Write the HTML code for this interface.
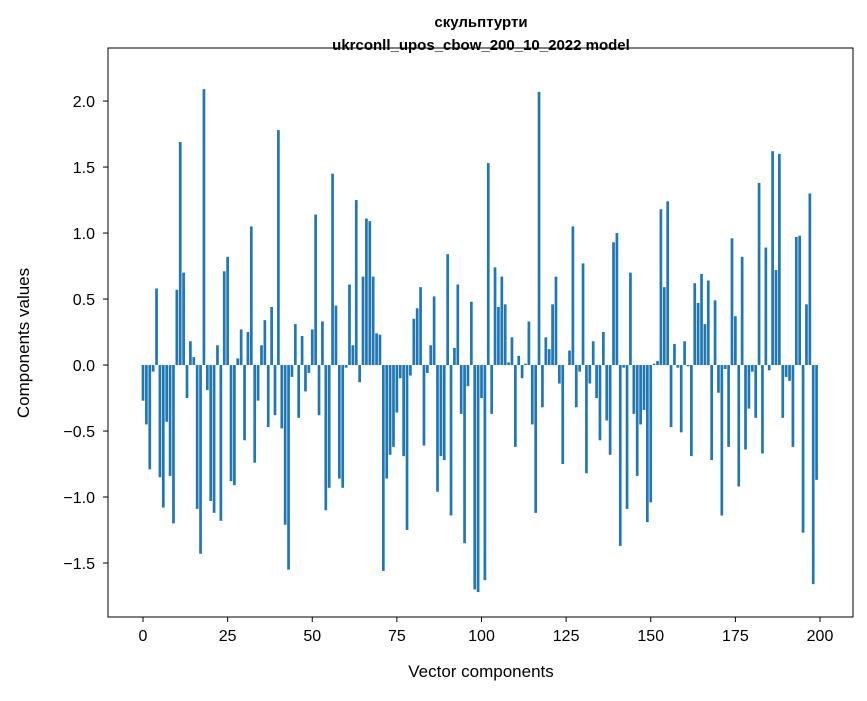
<!DOCTYPE html>
<html><head><meta charset="utf-8"><style>
body{margin:0;background:#fff;}
svg text{font-family:"Liberation Sans","DejaVu Sans",sans-serif;fill:#000;}
</style></head><body>
<svg id="chart" width="867" height="696" xmlns="http://www.w3.org/2000/svg">
<rect width="867" height="696" fill="#fff"/>
<text x="481" y="27" text-anchor="middle" font-size="15" font-weight="bold">скульптурти</text>
<text x="481" y="50" text-anchor="middle" font-size="15" font-weight="bold">ukrconll_upos_cbow_200_10_2022 model</text>
<g id="bars"></g>
<g id="axes"></g>
<text x="481" y="677" text-anchor="middle" font-size="17">Vector components</text>
<text x="0" y="0" transform="translate(29,343) rotate(-90)" text-anchor="middle" font-size="17">Components values</text>
</svg>
<script>
const values = [-0.27,-0.45,-0.79,-0.05,0.58,-0.85,-1.08,-0.43,-0.84,-1.20,
0.57,1.69,0.70,-0.25,0.18,0.06,-1.09,-1.43,2.09,-0.19,
-1.03,-1.12,0.15,-1.18,0.71,0.82,-0.88,-0.91,0.05,0.27,
-0.57,0.25,1.05,-0.74,-0.27,0.15,0.34,-0.47,0.44,-0.38,
1.78,-0.48,-1.21,-1.55,-0.09,0.31,-0.40,0.22,-0.20,-0.06,
0.27,1.14,-0.38,0.33,-1.10,-0.93,1.45,0.45,-0.86,-0.93,
-0.02,0.61,0.15,1.25,-0.13,0.67,1.11,1.09,0.67,0.24,
0.23,-1.56,-0.86,-0.68,-0.62,-0.36,-0.10,-0.69,-1.25,-0.08,
0.35,0.43,0.59,-0.61,-0.06,0.15,0.52,-0.96,-0.69,-0.72,
0.84,-1.14,0.13,0.61,-0.37,-1.35,-0.16,0.48,-1.70,-1.72,
-0.25,-1.63,1.53,-0.37,0.74,0.44,0.67,0.46,0.02,0.21,
-0.62,0.07,-0.10,0.01,0.33,-0.45,-1.12,2.07,-0.32,0.21,
0.12,0.46,0.67,-0.14,-0.75,0.00,0.11,1.05,-0.32,-0.05,
0.77,-0.82,-0.14,0.18,-0.25,-0.57,0.25,-0.42,-0.68,0.93,
1.00,-1.37,-0.02,-1.09,0.70,-0.37,-0.84,-0.45,-0.34,-1.19,
-1.04,0.01,0.03,1.18,0.59,1.24,-0.47,0.16,-0.02,-0.51,
0.18,-0.01,-0.69,0.62,0.47,0.69,0.31,0.64,-0.72,0.49,
-0.21,-1.14,-0.03,-0.62,0.96,0.37,-0.92,0.82,-0.64,-0.33,
-0.05,-0.40,1.38,-0.67,0.89,-0.04,1.62,0.72,1.60,-0.40,
-0.09,-0.12,-0.62,0.97,0.98,-1.27,0.46,1.30,-1.66,-0.87];
const xTicks = [0,25,50,75,100,125,150,175,200];
const yTicks = [-1.5,-1.0,-0.5,0.0,0.5,1.0,1.5,2.0];
const yTickLabels = ["−1.5","−1.0","−0.5","0.0","0.5","1.0","1.5","2.0"];

const L=108,R=853,T=48,B=617;
const xMin=-10.34,xMax=209.75,yMin=-1.909,yMax=2.402;
const sx=v=>L+(v-xMin)/(xMax-xMin)*(R-L);
const sy=v=>T+(yMax-v)/(yMax-yMin)*(B-T);
const NS="http://www.w3.org/2000/svg";
const bars=document.getElementById('bars');
values.forEach((v,i)=>{
  const r=document.createElementNS(NS,'rect');
  const x0=sx(i-0.4),x1=sx(i+0.4);
  const y0=sy(Math.max(v,0)),y1=sy(Math.min(v,0));
  r.setAttribute('x',x0);r.setAttribute('width',x1-x0);
  r.setAttribute('y',y0);r.setAttribute('height',Math.max(y1-y0,0.01));
  r.setAttribute('fill','#1f77b4');
  
  
  bars.appendChild(r);
});
const axes=document.getElementById('axes');
const frame=document.createElementNS(NS,'rect');
frame.setAttribute('x',L);frame.setAttribute('y',T);frame.setAttribute('width',R-L);frame.setAttribute('height',B-T);
frame.setAttribute('fill','none');frame.setAttribute('stroke','#000');frame.setAttribute('stroke-width','1');


axes.appendChild(frame);
xTicks.forEach(t=>{
  const x=sx(t);
  const l=document.createElementNS(NS,'line');
  l.setAttribute('x1',x);l.setAttribute('x2',x);l.setAttribute('y1',B);l.setAttribute('y2',B+5);l.setAttribute('stroke','#000');
  
  
  axes.appendChild(l);
  const tx=document.createElementNS(NS,'text');
  tx.setAttribute('x',x);tx.setAttribute('y',B+24);tx.setAttribute('text-anchor','middle');tx.setAttribute('font-size','16');
  tx.textContent=t;
  
  
  axes.appendChild(tx);
});
yTicks.forEach((t,i)=>{
  const y=sy(t);
  const l=document.createElementNS(NS,'line');
  l.setAttribute('x1',L-5);l.setAttribute('x2',L);l.setAttribute('y1',y);l.setAttribute('y2',y);l.setAttribute('stroke','#000');
  
  
  axes.appendChild(l);
  const tx=document.createElementNS(NS,'text');
  tx.setAttribute('x',L-13);tx.setAttribute('y',y+6);tx.setAttribute('text-anchor','end');tx.setAttribute('font-size','16');
  tx.textContent=yTickLabels[i];
  
  
  axes.appendChild(tx);
});
</script>
</body></html>
